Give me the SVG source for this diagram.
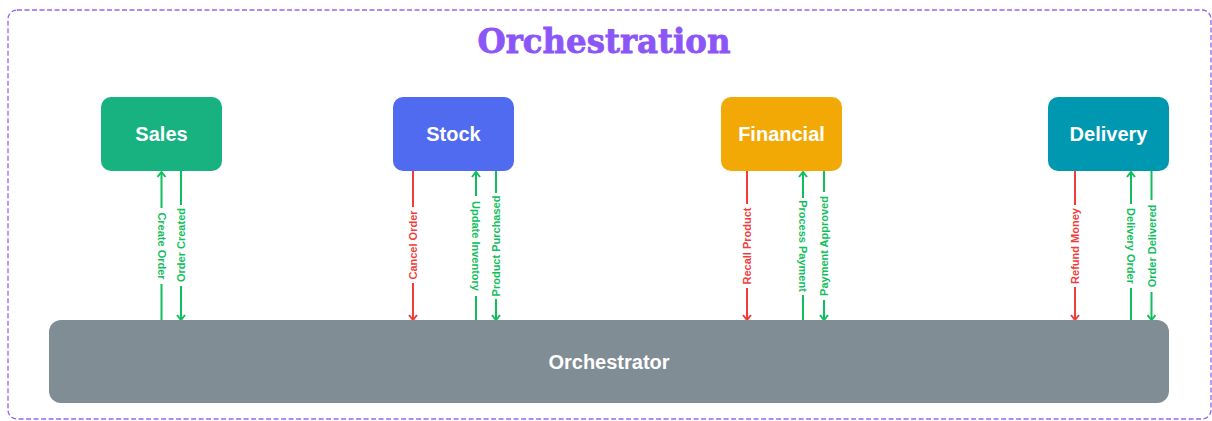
<svg xmlns="http://www.w3.org/2000/svg" width="1212" height="421" viewBox="0 0 1212 421">
<defs>
<style>
.frame{fill:none;stroke:#9466f0;stroke-width:1.3;stroke-dasharray:5 2.5}
.title{font-family:"DejaVu Serif","Liberation Serif",serif;font-weight:bold;font-size:34px;fill:#8b55f7;stroke:#8b55f7;stroke-width:0.8}
.node{stroke:none}
.ntext{font-family:"Liberation Sans",Arial,sans-serif;font-weight:bold;font-size:20px;fill:#ffffff}
.g{stroke:#10bf5c;stroke-width:2;fill:none}
.r{stroke:#f23c3c;stroke-width:2;fill:none}
.lbl{font-family:"Liberation Sans",Arial,sans-serif;font-weight:bold;font-size:11px}
.lg{fill:#10bf5c}
.lr{fill:#f23c3c}
.bg{fill:#ffffff}
</style>
<marker id="ag" viewBox="0 0 10 10" refX="9" refY="5" markerWidth="10" markerHeight="10" markerUnits="userSpaceOnUse" orient="auto">
<path d="M4,1 L9,5 L4,9" fill="none" stroke="#10bf5c" stroke-width="2"/>
</marker>
<marker id="ar" viewBox="0 0 10 10" refX="9" refY="5" markerWidth="10" markerHeight="10" markerUnits="userSpaceOnUse" orient="auto">
<path d="M4,1 L9,5 L4,9" fill="none" stroke="#f23c3c" stroke-width="2"/>
</marker>
</defs>
<rect class="frame" x="8" y="10" width="1203" height="409" rx="9"/>
<text class="title" x="604" y="53" text-anchor="middle" textLength="253" lengthAdjust="spacingAndGlyphs">Orchestration</text>

<g id="connectors">
<line class="g" x1="161.5" y1="320" x2="161.5" y2="172" marker-end="url(#ag)"/>
<line class="g" x1="181" y1="171" x2="181" y2="320" marker-end="url(#ag)"/>
<line class="r" x1="413" y1="171" x2="413" y2="320" marker-end="url(#ar)"/>
<line class="g" x1="476" y1="320" x2="476" y2="172" marker-end="url(#ag)"/>
<line class="g" x1="496" y1="171" x2="496" y2="320" marker-end="url(#ag)"/>
<line class="r" x1="747" y1="171" x2="747" y2="320" marker-end="url(#ar)"/>
<line class="g" x1="803" y1="320" x2="803" y2="172" marker-end="url(#ag)"/>
<line class="g" x1="824" y1="171" x2="824" y2="320" marker-end="url(#ag)"/>
<line class="r" x1="1075" y1="171" x2="1075" y2="320" marker-end="url(#ar)"/>
<line class="g" x1="1131" y1="320" x2="1131" y2="172" marker-end="url(#ag)"/>
<line class="g" x1="1151.5" y1="171" x2="1151.5" y2="320" marker-end="url(#ag)"/>

<rect class="bg" x="155" y="208" width="13" height="76"/>
<text class="lbl lg" transform="translate(161.5,246) rotate(90)" text-anchor="middle" dy="4">Create Order</text>
<rect class="bg" x="175" y="205" width="13" height="81"/>
<text class="lbl lg" transform="translate(181,245) rotate(-90)" text-anchor="middle" dy="4">Order Created</text>

<rect class="bg" x="407" y="207" width="13" height="76"/>
<text class="lbl lr" transform="translate(413,245) rotate(-90)" text-anchor="middle" dy="4">Cancel Order</text>
<rect class="bg" x="470" y="196" width="13" height="100"/>
<text class="lbl lg" transform="translate(476,246) rotate(90)" text-anchor="middle" dy="4">Update Inventory</text>
<rect class="bg" x="490" y="193" width="13" height="106"/>
<text class="lbl lg" transform="translate(496,246) rotate(-90)" text-anchor="middle" dy="4">Product Purchased</text>

<rect class="bg" x="741" y="204" width="13" height="84"/>
<text class="lbl lr" transform="translate(747,246) rotate(-90)" text-anchor="middle" dy="4">Recall Product</text>
<rect class="bg" x="797" y="198" width="13" height="97"/>
<text class="lbl lg" transform="translate(803,246) rotate(90)" text-anchor="middle" dy="4">Process Payment</text>
<rect class="bg" x="818" y="192" width="13" height="108"/>
<text class="lbl lg" transform="translate(824,246) rotate(-90)" text-anchor="middle" dy="4">Payment Approved</text>

<rect class="bg" x="1069" y="205" width="13" height="82"/>
<text class="lbl lr" transform="translate(1075,246) rotate(-90)" text-anchor="middle" dy="4">Refund Money</text>
<rect class="bg" x="1125" y="204" width="13" height="84"/>
<text class="lbl lg" transform="translate(1131,246) rotate(90)" text-anchor="middle" dy="4">Delivery Order</text>
<rect class="bg" x="1145" y="200" width="13" height="92"/>
<text class="lbl lg" transform="translate(1151.5,246) rotate(-90)" text-anchor="middle" dy="4">Order Delivered</text>
</g>

<g id="sales">
<rect class="node" x="101" y="97" width="121" height="74" rx="10" fill="#17b27f"/>
<text class="ntext" x="161.5" y="141" text-anchor="middle">Sales</text>
</g>
<g id="stock">
<rect class="node" x="393" y="97" width="121" height="74" rx="10" fill="#506bef"/>
<text class="ntext" x="453.5" y="141" text-anchor="middle">Stock</text>
</g>
<g id="financial">
<rect class="node" x="721" y="97" width="121" height="74" rx="10" fill="#f2a906"/>
<text class="ntext" x="781.5" y="141" text-anchor="middle">Financial</text>
</g>
<g id="delivery">
<rect class="node" x="1048" y="97" width="121" height="74" rx="10" fill="#0098b0"/>
<text class="ntext" x="1108.5" y="141" text-anchor="middle">Delivery</text>
</g>
<g id="orchestrator">
<rect class="node" x="49" y="320" width="1120" height="83" rx="12" fill="#808d95"/>
<text class="ntext" x="609" y="369" text-anchor="middle">Orchestrator</text>
</g>
</svg>
